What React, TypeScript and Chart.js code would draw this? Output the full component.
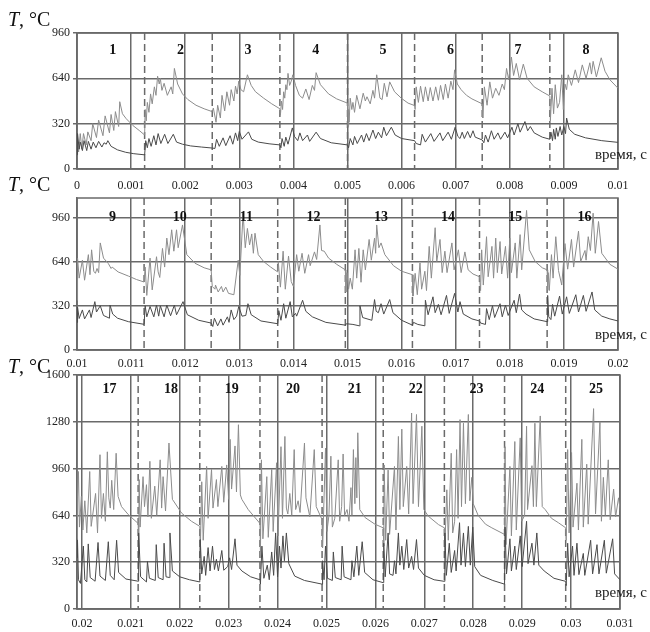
import React, { useEffect, useRef } from 'react';
import { Chart, registerables } from 'chart.js';
Chart.register(...registerables);

type P = [number, number];

// time in ms (tick labels show seconds), temperature in °C

// ---------- Panel 1 (segments 1–8) ----------
const upper1: P[] = [
  [0,230],[0.03,120],[0.06,250],[0.09,140],[0.12,250],[0.17,170],[0.2,262],[0.26,200],[0.29,320],[0.36,222],[0.4,345],[0.48,235],[0.52,375],[0.6,255],[0.63,385],[0.68,272],[0.71,405],[0.77,300],[0.79,475],[0.84,390],[0.91,355],[1.03,308],[1.15,272],
  [1.25,240],[1.26,420],[1.28,340],[1.3,470],[1.33,400],[1.36,530],[1.39,460],[1.43,580],[1.46,520],[1.49,655],[1.52,600],[1.54,640],[1.57,555],[1.61,605],[1.67,520],[1.74,580],[1.77,530],[1.8,710],[1.86,600],[1.95,530],[2.05,490],[2.2,450],[2.35,425],
  [2.5,405],[2.52,430],[2.57,330],[2.6,450],[2.65,360],[2.68,520],[2.73,410],[2.77,545],[2.82,450],[2.85,560],[2.9,480],[2.93,585],[2.96,530],[2.99,620],[3.03,560],[3.08,545],[3.15,665],[3.22,590],[3.3,545],[3.45,500],[3.6,460],
  [3.75,425],[3.76,380],[3.78,480],[3.8,420],[3.82,545],[3.84,500],[3.86,595],[3.88,560],[3.9,675],[3.93,590],[3.96,620],[3.99,665],[4.04,590],[4.11,520],[4.17,500],[4.23,565],[4.29,490],[4.35,590],[4.39,555],[4.42,680],[4.5,595],[4.65,530],[4.8,495],
  [5.0,465],[5.01,300],[5.02,420],[5.03,330],[5.05,500],[5.08,420],[5.1,470],[5.13,400],[5.17,520],[5.23,425],[5.29,535],[5.33,480],[5.36,510],[5.42,460],[5.47,555],[5.5,500],[5.54,665],[5.6,500],[5.64,490],[5.68,605],[5.73,510],[5.78,615],[5.87,545],[6.0,498],[6.12,465],
  [6.24,448],[6.25,420],[6.27,580],[6.31,470],[6.35,585],[6.4,475],[6.44,580],[6.49,480],[6.53,575],[6.58,480],[6.63,580],[6.68,485],[6.72,590],[6.77,490],[6.81,600],[6.86,500],[6.91,620],[6.95,560],[6.98,700],[7.03,600],[7.1,560],[7.2,520],[7.3,495],
  [7.49,460],[7.5,360],[7.53,580],[7.58,450],[7.63,615],[7.68,500],[7.74,570],[7.8,520],[7.86,600],[7.9,560],[7.94,710],[7.98,630],[8.03,790],[8.07,660],[8.12,745],[8.18,630],[8.25,740],[8.32,640],[8.45,580],[8.6,545],
  [8.74,515],[8.75,340],[8.78,570],[8.81,390],[8.84,595],[8.88,430],[8.92,470],[8.96,665],[8.99,420],[9.02,600],[9.05,560],[9.08,665],[9.14,590],[9.21,700],[9.27,610],[9.34,735],[9.41,640],[9.48,750],[9.51,670],[9.54,760],[9.6,650],[9.69,785],[9.76,690],[9.85,630],[10,570],
];
const lower1: P[] = [
  [0,100],[0.01,250],[0.04,140],[0.06,190],[0.1,130],[0.13,200],[0.18,130],[0.21,195],[0.26,140],[0.3,190],[0.35,150],[0.4,195],[0.46,155],[0.5,185],[0.54,175],[0.57,200],[0.63,160],[0.75,135],[0.9,118],[1.05,108],
  [1.25,100],[1.27,200],[1.3,150],[1.33,215],[1.37,160],[1.42,235],[1.46,170],[1.5,250],[1.55,180],[1.62,245],[1.68,180],[1.78,245],[1.84,190],[1.95,175],[2.1,163],[2.3,155],
  [2.5,148],[2.55,145],[2.58,210],[2.63,160],[2.7,220],[2.75,165],[2.83,235],[2.88,175],[2.93,255],[2.97,200],[3.0,265],[3.05,210],[3.17,262],[3.23,210],[3.35,190],[3.55,178],
  [3.75,170],[3.77,150],[3.79,215],[3.83,160],[3.86,225],[3.9,175],[3.98,290],[4.02,230],[4.08,200],[4.12,255],[4.17,200],[4.26,240],[4.3,195],[4.42,260],[4.5,215],[4.7,185],
  [5.0,170],[5.02,150],[5.05,215],[5.1,170],[5.13,230],[5.18,180],[5.26,240],[5.3,190],[5.35,250],[5.4,200],[5.47,275],[5.52,215],[5.57,260],[5.63,220],[5.67,295],[5.72,235],[5.81,295],[5.88,240],[6.0,215],
  [6.24,200],[6.27,180],[6.35,170],[6.38,245],[6.44,190],[6.54,250],[6.6,195],[6.71,255],[6.76,200],[6.86,260],[6.92,210],[6.99,295],[7.04,230],[7.08,215],[7.12,260],[7.16,215],[7.22,265],[7.27,220],[7.32,270],[7.36,225],
  [7.49,205],[7.52,185],[7.55,240],[7.6,190],[7.66,270],[7.71,210],[7.78,255],[7.83,210],[7.91,260],[7.96,220],[8.04,295],[8.08,240],[8.15,320],[8.19,260],[8.28,335],[8.33,270],[8.38,300],[8.45,255],[8.6,225],
  [8.74,210],[8.76,260],[8.79,200],[8.81,280],[8.84,210],[8.86,290],[8.89,230],[8.93,300],[8.96,240],[9.0,300],[9.03,250],[9.05,360],[9.1,280],[9.2,245],[9.4,220],[9.7,200],[10,188],
];

// ---------- Panel 2 (segments 9–16) ----------
const upper2: P[] = [
  [10,360],[10.01,665],[10.04,520],[10.1,650],[10.14,505],[10.21,690],[10.24,545],[10.27,725],[10.31,570],[10.34,555],[10.37,590],[10.4,560],[10.43,775],[10.49,665],[10.58,625],[10.63,590],[10.65,600],[10.76,565],[10.95,535],[11.1,510],
  [11.24,492],[11.26,600],[11.29,395],[11.35,665],[11.39,435],[11.47,675],[11.5,565],[11.53,525],[11.58,735],[11.62,600],[11.66,810],[11.7,690],[11.75,870],[11.79,715],[11.84,870],[11.87,740],[11.95,905],[12.03,690],[12.18,628],[12.35,595],
  [12.48,580],[12.5,460],[12.55,440],[12.56,470],[12.61,420],[12.67,460],[12.7,420],[12.75,455],[12.8,410],[12.9,400],[12.98,650],[13.01,540],[13.07,990],[13.11,740],[13.15,880],[13.19,760],[13.23,840],[13.26,700],[13.29,845],[13.35,690],[13.45,640],[13.58,600],
  [13.71,565],[13.72,640],[13.76,455],[13.81,715],[13.85,440],[13.91,680],[13.96,495],[14.0,460],[14.06,690],[14.1,570],[14.16,700],[14.21,555],[14.28,690],[14.31,610],[14.39,710],[14.43,655],[14.49,905],[14.52,720],[14.57,715],[14.65,665],[14.8,620],
  [14.96,580],[14.97,420],[14.99,560],[15.02,440],[15.05,520],[15.09,440],[15.14,725],[15.17,520],[15.21,735],[15.25,490],[15.29,725],[15.33,580],[15.4,800],[15.44,650],[15.5,810],[15.52,700],[15.54,905],[15.58,740],[15.62,775],[15.69,690],[15.85,610],[16.0,570],
  [16.2,545],[16.21,390],[16.25,555],[16.29,400],[16.34,630],[16.37,440],[16.43,570],[16.46,430],[16.51,750],[16.55,520],[16.62,885],[16.65,640],[16.71,800],[16.75,560],[16.8,715],[16.84,560],[16.93,775],[16.97,580],[17.05,725],[17.1,560],[17.17,710],[17.23,580],[17.32,550],
  [17.44,530],[17.46,430],[17.48,725],[17.51,470],[17.57,820],[17.6,530],[17.67,750],[17.7,520],[17.74,810],[17.77,560],[17.82,785],[17.85,550],[17.92,750],[17.96,520],[18.0,810],[18.03,560],[18.1,775],[18.13,520],[18.19,835],[18.22,580],[18.31,1010],[18.36,725],[18.47,640],[18.6,595],
  [18.69,580],[18.7,435],[18.71,560],[18.73,430],[18.77,690],[18.8,520],[18.85,820],[18.9,575],[18.96,470],[19.02,770],[19.07,585],[19.14,800],[19.18,600],[19.27,860],[19.31,640],[19.39,720],[19.41,650],[19.45,820],[19.49,720],[19.54,990],[19.58,700],[19.64,930],[19.7,700],[19.85,620],[20.0,585],
];
const lower2: P[] = [
  [10,200],[10.01,310],[10.04,228],[10.1,290],[10.14,225],[10.23,290],[10.26,235],[10.33,350],[10.36,275],[10.43,320],[10.49,250],[10.6,230],[10.61,325],[10.66,260],[10.75,230],[10.95,205],
  [11.24,186],[11.26,320],[11.29,240],[11.35,315],[11.42,240],[11.47,325],[11.51,245],[11.54,320],[11.61,240],[11.66,325],[11.73,248],[11.8,325],[11.84,255],[11.96,350],[12.04,255],[12.25,215],
  [12.48,195],[12.51,170],[12.54,230],[12.6,175],[12.66,225],[12.7,180],[12.78,240],[12.81,200],[12.85,290],[12.9,220],[12.95,245],[12.99,315],[13.05,245],[13.12,250],[13.16,335],[13.22,255],[13.4,210],
  [13.71,190],[13.73,285],[13.77,215],[13.82,335],[13.86,230],[13.94,350],[13.98,240],[14.04,265],[14.06,245],[14.17,360],[14.23,280],[14.35,240],[14.6,200],
  [14.96,180],[14.98,190],[15.1,185],[15.22,175],[15.23,320],[15.28,235],[15.45,215],[15.5,365],[15.53,280],[15.57,270],[15.62,335],[15.67,260],[15.78,365],[15.84,270],[16.0,215],
  [16.2,180],[16.22,200],[16.3,185],[16.43,175],[16.44,360],[16.49,255],[16.58,385],[16.62,270],[16.68,330],[16.73,255],[16.83,395],[16.88,265],[16.98,410],[17.04,275],[17.08,350],[17.14,260],[17.3,225],
  [17.44,210],[17.46,195],[17.55,185],[17.57,300],[17.62,220],[17.68,320],[17.72,235],[17.82,335],[17.86,240],[17.92,325],[17.97,250],[18.08,360],[18.12,270],[18.18,405],[18.22,290],[18.3,260],[18.45,225],
  [18.69,205],[18.7,395],[18.72,240],[18.76,220],[18.79,330],[18.83,245],[18.92,390],[18.97,260],[19.05,385],[19.1,265],[19.22,400],[19.27,275],[19.36,395],[19.41,280],[19.52,420],[19.57,290],[19.7,245],[19.85,225],[20.0,210],
];

// ---------- Panel 3 (segments 17–25) ----------
const upper3: P[] = [
  [19.9,480],[19.91,760],[19.93,940],[19.95,560],[19.99,770],[20.02,540],[20.06,740],[20.1,520],[20.16,940],[20.19,565],[20.28,790],[20.32,520],[20.37,1055],[20.4,620],[20.44,790],[20.48,600],[20.52,1075],[20.55,760],[20.58,690],[20.61,880],[20.65,680],[20.7,1065],[20.74,770],[20.81,700],[20.95,645],
  [21.15,585],[21.16,400],[21.17,885],[21.19,560],[21.25,905],[21.28,700],[21.32,850],[21.35,630],[21.39,1010],[21.42,620],[21.49,840],[21.53,640],[21.6,1020],[21.63,690],[21.66,905],[21.71,670],[21.78,1135],[21.85,750],[22.04,655],[22.24,600],
  [22.41,565],[22.42,390],[22.45,870],[22.48,470],[22.55,975],[22.58,620],[22.65,955],[22.68,690],[22.75,885],[22.78,700],[22.86,975],[22.9,730],[22.96,985],[23.0,750],[23.03,1160],[23.06,820],[23.13,1115],[23.16,800],[23.2,1260],[23.24,780],[23.27,750],[23.4,680],
  [23.64,585],[23.65,390],[23.67,1020],[23.7,480],[23.78,905],[23.81,490],[23.88,955],[23.91,530],[23.98,1000],[24.01,500],[24.07,1110],[24.1,620],[24.15,1180],[24.18,690],[24.21,650],[24.25,790],[24.29,640],[24.34,1090],[24.37,680],[24.42,740],[24.46,660],[24.55,1135],[24.58,760],[24.66,630],[24.75,1090],[24.79,700],
  [24.91,610],[24.92,420],[24.98,1100],[25.01,530],[25.05,640],[25.09,1045],[25.12,560],[25.17,620],[25.24,1020],[25.27,600],[25.31,700],[25.34,1060],[25.37,640],[25.42,680],[25.46,600],[25.5,830],[25.52,640],[25.55,1090],[25.58,720],[25.6,1035],[25.62,760],[25.64,1205],[25.68,680],[25.79,625],[25.99,580],
  [26.16,555],[26.17,430],[26.18,985],[26.21,470],[26.26,950],[26.29,510],[26.39,975],[26.42,540],[26.47,1180],[26.5,680],[26.54,1230],[26.57,700],[26.64,975],[26.68,650],[26.74,1340],[26.77,720],[26.84,1330],[26.88,700],[26.95,1250],[26.99,680],[27.08,635],[27.29,577],
  [27.41,555],[27.42,430],[27.46,815],[27.49,470],[27.55,1065],[27.58,520],[27.62,600],[27.66,1090],[27.69,620],[27.73,1295],[27.76,700],[27.8,1270],[27.84,720],[27.9,1330],[27.93,740],[27.97,900],[28.0,720],[28.1,640],[28.25,580],[28.38,555],
  [28.64,510],[28.65,1110],[28.67,440],[28.75,975],[28.78,500],[28.85,1145],[28.88,540],[28.96,1170],[28.99,600],[29.05,640],[29.09,1250],[29.11,680],[29.2,980],[29.23,700],[29.26,1270],[29.29,700],[29.37,1320],[29.41,700],[29.47,680],[29.6,620],[29.74,590],
  [29.89,555],[29.9,470],[29.93,1090],[29.96,520],[30.01,1070],[30.04,560],[30.12,860],[30.15,540],[30.22,1160],[30.25,560],[30.32,990],[30.35,580],[30.46,1370],[30.5,650],[30.59,1280],[30.62,600],[30.66,900],[30.7,640],[30.76,1020],[30.8,610],[30.87,820],[30.91,630],[30.97,760],[31.02,640],[31.1,610],
];
const lower3: P[] = [
  [19.9,350],[19.91,470],[19.93,200],[19.97,175],[20.03,430],[20.06,200],[20.1,185],[20.13,445],[20.17,215],[20.27,190],[20.33,455],[20.37,225],[20.48,195],[20.54,460],[20.58,230],[20.66,200],[20.71,470],[20.75,250],[20.9,205],
  [21.15,190],[21.16,520],[21.2,220],[21.32,185],[21.34,325],[21.38,210],[21.5,195],[21.52,440],[21.56,215],[21.66,200],[21.68,450],[21.72,220],[21.79,215],[21.8,520],[21.85,260],[22.0,220],[22.2,200],
  [22.41,185],[22.42,475],[22.45,240],[22.5,360],[22.53,230],[22.58,420],[22.62,260],[22.67,430],[22.71,270],[22.75,340],[22.79,260],[22.86,400],[22.9,265],[22.98,290],[23.02,350],[23.06,270],[23.13,480],[23.17,300],[23.27,260],[23.45,220],
  [23.64,200],[23.65,170],[23.68,430],[23.72,210],[23.79,300],[23.83,200],[23.88,390],[23.92,230],[23.96,520],[24.0,220],[24.04,430],[24.07,280],[24.11,500],[24.14,330],[24.18,520],[24.23,310],[24.35,225],[24.55,195],
  [24.91,170],[24.92,330],[24.95,200],[24.98,430],[25.02,210],[25.12,195],[25.14,390],[25.18,215],[25.3,200],[25.32,430],[25.36,220],[25.5,200],[25.52,330],[25.56,220],[25.62,430],[25.66,230],[25.73,460],[25.78,250],[25.95,200],
  [26.16,180],[26.17,450],[26.2,220],[26.26,520],[26.29,240],[26.36,230],[26.39,330],[26.42,240],[26.47,520],[26.5,300],[26.54,430],[26.58,270],[26.64,475],[26.68,280],[26.74,360],[26.78,270],[26.84,475],[26.88,280],[27.0,230],[27.2,200],
  [27.41,189],[27.42,520],[27.45,230],[27.51,450],[27.55,250],[27.62,400],[27.65,260],[27.72,590],[27.75,300],[27.8,520],[27.84,290],[27.9,565],[27.94,300],[27.99,560],[28.03,290],[28.15,230],[28.4,195],
  [28.64,170],[28.65,560],[28.68,240],[28.75,480],[28.78,260],[28.85,430],[28.88,270],[28.96,500],[29.0,290],[29.09,600],[29.12,310],[29.2,450],[29.24,300],[29.3,520],[29.34,300],[29.45,260],[29.65,210],
  [29.89,189],[29.9,160],[29.93,450],[29.96,220],[30.03,430],[30.06,230],[30.12,450],[30.16,235],[30.25,380],[30.28,230],[30.4,470],[30.44,240],[30.53,440],[30.57,240],[30.68,470],[30.72,245],[30.85,480],[30.89,240],[31.0,200],[31.1,185],
];

// ---------- axes, segment boundaries, labels ----------
const xTicks1 = [0, 1, 2, 3, 4, 5, 6, 7, 8, 9, 10];
const xTickLabels1 = ['0', '0.001', '0.002', '0.003', '0.004', '0.005', '0.006', '0.007', '0.008', '0.009', '0.01'];
const xTicks2 = [10, 11, 12, 13, 14, 15, 16, 17, 18, 19, 20];
const xTickLabels2 = ['0.01', '0.011', '0.012', '0.013', '0.014', '0.015', '0.016', '0.017', '0.018', '0.019', '0.02'];
const xTicks3 = [20, 21, 22, 23, 24, 25, 26, 27, 28, 29, 30, 31];
const xTickLabels3 = ['0.02', '0.021', '0.022', '0.023', '0.024', '0.025', '0.026', '0.027', '0.028', '0.029', '0.03', '0.031'];
const yTicks12 = [0, 320, 640, 960];
const yTicks3 = [0, 320, 640, 960, 1280, 1600];

const dashes1 = [1.25, 2.5, 3.75, 5.0, 6.24, 7.49, 8.74];
const dashes2 = [11.24, 12.48, 13.71, 14.96, 16.2, 17.44, 18.69];
const dashes3 = [21.15, 22.41, 23.64, 24.91, 26.16, 27.41, 28.64, 29.89];
const segLabels1 = ['1', '2', '3', '4', '5', '6', '7', '8'];
const segLabels2 = ['9', '10', '11', '12', '13', '14', '15', '16'];
const segLabels3 = ['17', '18', '19', '20', '21', '22', '23', '24', '25'];

const yTitleVar = 'T';
const yTitleUnit = ', \u00B0C';
const xTitle = 'время, с';

const SERIF = '"Liberation Serif", "DejaVu Serif", serif';
const GRID = '#6a6a6a';

interface PanelCfg {
  top: number; height: number; padTop: number; padRight: number; axisH: number;
  xMin: number; xMax: number; yMax: number;
  upper: P[]; lower: P[];
  xTicks: number[]; xTickLabels: string[]; yTicks: number[];
  dashes: number[]; segLabels: string[]; segStart: number; segEnd: number; segLabelY: number;
  titleBaseline: number; xLabelBaseline: number; xTickPad: number;
}

const panels: PanelCfg[] = [
  { top: 0, height: 200, padTop: 33, padRight: 32, axisH: 31, xMin: 0, xMax: 10, yMax: 960,
    upper: upper1, lower: lower1, xTicks: xTicks1, xTickLabels: xTickLabels1, yTicks: yTicks12,
    dashes: dashes1, segLabels: segLabels1, segStart: 0, segEnd: 10, segLabelY: 840,
    titleBaseline: 26, xLabelBaseline: 159, xTickPad: 10 },
  { top: 170, height: 205, padTop: 28, padRight: 32, axisH: 25, xMin: 10, xMax: 20, yMax: 1100,
    upper: upper2, lower: lower2, xTicks: xTicks2, xTickLabels: xTickLabels2, yTicks: yTicks12,
    dashes: dashes2, segLabels: segLabels2, segStart: 10, segEnd: 20, segLabelY: 960,
    titleBaseline: 21, xLabelBaseline: 169, xTickPad: 7 },
  { top: 350, height: 282, padTop: 25, padRight: 30, axisH: 23, xMin: 19.9, xMax: 31, yMax: 1600,
    upper: upper3, lower: lower3, xTicks: xTicks3, xTickLabels: xTickLabels3, yTicks: yTicks3,
    dashes: dashes3, segLabels: segLabels3, segStart: 19.9, segEnd: 31.05, segLabelY: 1500,
    titleBaseline: 23, xLabelBaseline: 247, xTickPad: 8 },
];

function Panel({ cfg }: { cfg: PanelCfg }) {
  const ref = useRef<HTMLCanvasElement>(null);
  useEffect(() => {
    const canvas = ref.current!;
    const overlay = {
      id: 'overlay',
      beforeDatasetsDraw(chart: any) {
        const { ctx, chartArea: a, scales } = chart;
        const x = scales.x;
        ctx.save();
        ctx.strokeStyle = GRID;
        ctx.lineWidth = 1.5;
        ctx.setLineDash([7, 4]);
        for (const d of cfg.dashes) {
          const px = x.getPixelForValue(d);
          ctx.beginPath();
          ctx.moveTo(px, a.top);
          ctx.lineTo(px, a.bottom);
          ctx.stroke();
        }
        ctx.setLineDash([]);
        ctx.strokeRect(a.left, a.top, a.right - a.left, a.bottom - a.top);
        ctx.restore();
      },
      afterDatasetsDraw(chart: any) {
        const { ctx, scales } = chart;
        const x = scales.x, y = scales.y;
        ctx.save();
        ctx.fillStyle = '#111';
        ctx.font = 'bold 14px ' + SERIF;
        ctx.textAlign = 'center';
        ctx.textBaseline = 'middle';
        const b = [cfg.segStart, ...cfg.dashes, cfg.segEnd];
        cfg.segLabels.forEach((lab, i) => {
          const mid = (b[i] + b[i + 1]) / 2;
          ctx.fillText(lab, x.getPixelForValue(mid) + 2, y.getPixelForValue(cfg.segLabelY));
        });
        ctx.textAlign = 'left';
        ctx.textBaseline = 'alphabetic';
        ctx.font = 'italic 20px ' + SERIF;
        ctx.fillText(yTitleVar, 8, cfg.titleBaseline);
        const w = ctx.measureText(yTitleVar).width;
        ctx.font = '20px ' + SERIF;
        ctx.fillText(yTitleUnit, 8 + w, cfg.titleBaseline);
        ctx.font = '15px ' + SERIF;
        ctx.fillStyle = '#222';
        ctx.fillText(xTitle, 595, cfg.xLabelBaseline);
        ctx.restore();
      },
    };
    const chart = new Chart(canvas, {
      type: 'line',
      data: {
        datasets: [
          { data: cfg.lower.map(([t, v]) => ({ x: t, y: v })), borderColor: '#4a4a4a', borderWidth: 1, pointRadius: 0, tension: 0, fill: false },
          { data: cfg.upper.map(([t, v]) => ({ x: t, y: v })), borderColor: '#8c8c8c', borderWidth: 1, pointRadius: 0, tension: 0, fill: false },
        ],
      },
      options: {
        animation: false,
        responsive: false,
        maintainAspectRatio: false,
        events: [],
        layout: { padding: { top: cfg.padTop, right: cfg.padRight, left: 0, bottom: 0 } },
        plugins: { legend: { display: false }, tooltip: { enabled: false }, title: { display: false } },
        scales: {
          x: {
            type: 'linear', min: cfg.xMin, max: cfg.xMax,
            afterBuildTicks: (s: any) => { s.ticks = cfg.xTicks.map((v) => ({ value: v })); },
            afterFit: (s: any) => { s.height = cfg.axisH; },
            grid: { color: GRID, lineWidth: 1.5, drawTicks: false },
            border: { display: true, color: GRID, width: 1.5 },
            ticks: {
              autoSkip: false, maxRotation: 0, padding: cfg.xTickPad, color: '#222',
              font: { family: SERIF, size: 12 },
              callback: (_v: any, i: number) => cfg.xTickLabels[i] ?? '',
            },
          },
          y: {
            type: 'linear', min: 0, max: cfg.yMax,
            afterBuildTicks: (s: any) => { s.ticks = cfg.yTicks.map((v) => ({ value: v })); },
            afterFit: (s: any) => { s.width = 77; },
            grid: { color: GRID, lineWidth: 1.5, drawTicks: true, tickLength: 4 },
            border: { display: true, color: GRID, width: 1.5 },
            ticks: {
              padding: 3, color: '#222',
              font: { family: SERIF, size: 12 },
              callback: (v: any) => String(v),
            },
          },
        },
      },
      plugins: [overlay],
    } as any);
    return () => chart.destroy();
  }, [cfg]);
  return (
    <canvas
      ref={ref}
      width={650}
      height={cfg.height}
      style={{ position: 'absolute', left: 0, top: cfg.top, width: 650, height: cfg.height }}
    />
  );
}

export default function App() {
  return (
    <div style={{ position: 'absolute', left: 0, top: 0, width: 650, height: 632, background: '#fff', overflow: 'hidden' }}>
      {panels.map((p, i) => <Panel key={i} cfg={p} />)}
    </div>
  );
}
